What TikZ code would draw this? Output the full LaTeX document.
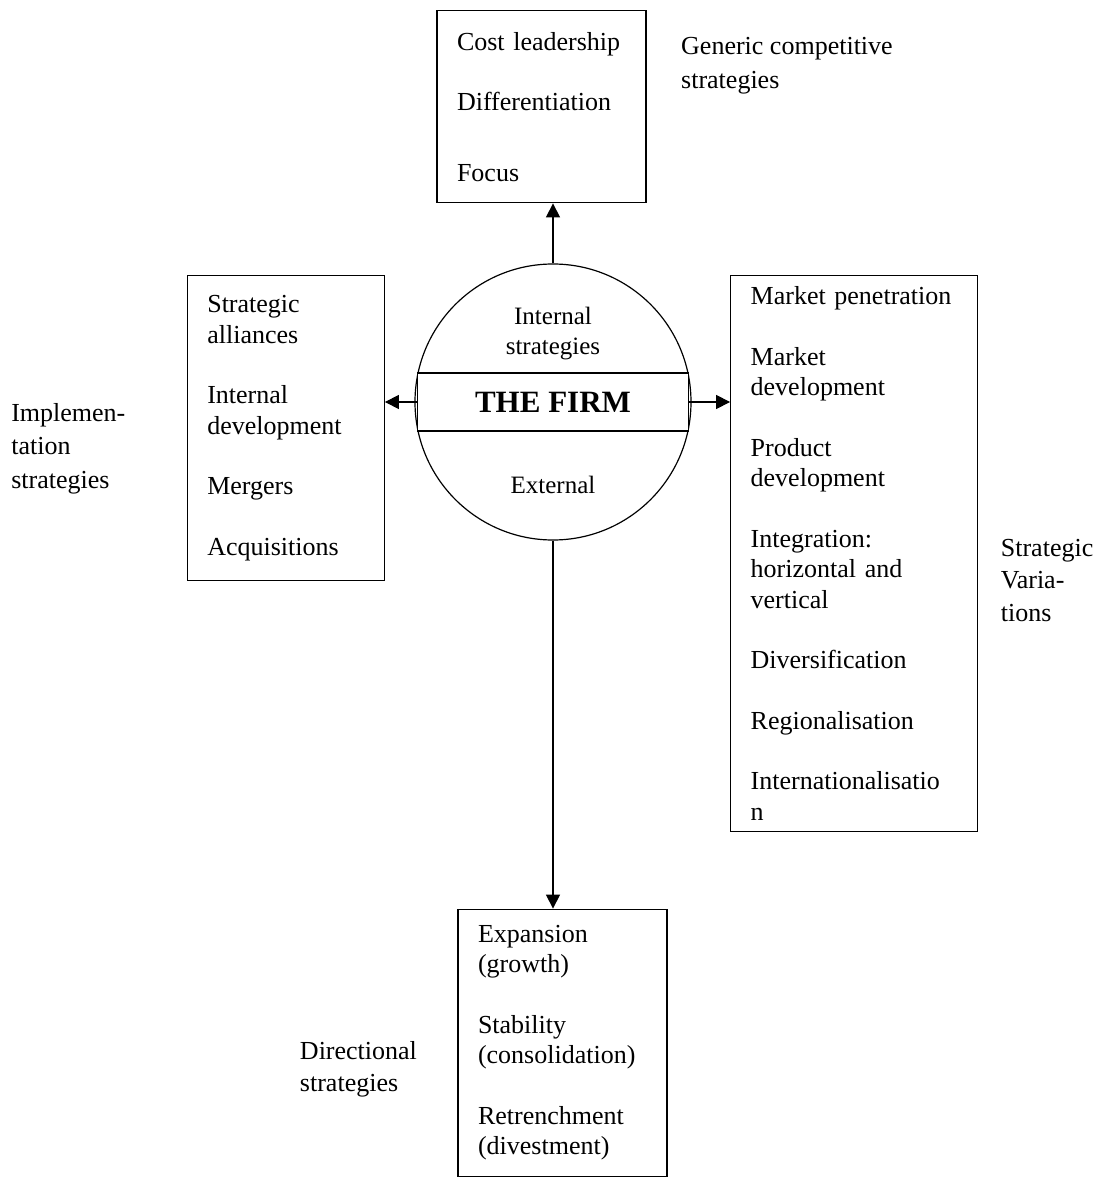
\documentclass[tikz,border=0pt]{standalone}
\usepackage{fontspec}
\setmainfont{Liberation Serif}
\usetikzlibrary{positioning,arrows.meta}

\begin{document}
\begin{tikzpicture}[font=\fontsize{13}{15.25}\selectfont,>={Triangle[length=7pt,width=7pt]},
      line width=0.6pt,
      box/.style={draw,align=left,inner xsep=10pt,inner ysep=0pt},
      lab/.style={align=left,inner sep=0pt}]
    \useasboundingbox (-276.5pt,-387.5pt) rectangle (278.5pt,201pt);
    \node[draw,circle,minimum size=138pt,inner sep=0pt] (firm) at (0,0) {};
    \node[draw,fill=white,minimum width=135.5pt,minimum height=29pt,inner sep=0pt,
      font=\fontsize{15.5}{18}\selectfont\bfseries] (core) at (firm) {THE FIRM};
    \node[lab,align=center,font=\fontsize{12.5}{15}\selectfont,above=6pt of core] (intl) {Internal\\strategies};
    \node[lab,font=\fontsize{12.5}{15}\selectfont,below=22pt of core] (extl) {External};

    \node[box,text width=84.5pt,minimum height=96pt,above=30pt of firm,xshift=-5.75pt] (gen)
      {Cost leadership\\[15pt]Differentiation\\[20pt]Focus};
    \node[box,text width=78.5pt,minimum height=152.5pt,anchor=north east] (impl)
      at ([shift={(-16pt,63.5pt)}]core.west)
      {Strategic\\alliances\\[15pt]Internal\\development\\[15pt]Mergers\\[15pt]Acquisitions};
    \node[box,text width=103.5pt,minimum height=278pt,anchor=north west] (var)
      at ([shift={(20.5pt,63.5pt)}]core.east)
      {Market penetration\\[15pt]Market\\development\\[15pt]Product\\development\\[15pt]%
       Integration:\\horizontal and\\vertical\\[15pt]Diversification\\[15pt]%
       Regionalisation\\[15pt]Internationalisatio\\n};
    \node[box,text width=84.5pt,minimum height=133.5pt,below=184pt of firm,xshift=4.75pt] (dir)
      {Expansion\\(growth)\\[15pt]Stability\\(consolidation)\\[15pt]Retrenchment\\(divestment)};

    \node[lab,anchor=north west,font=\fontsize{13}{17}\selectfont] (genlab)
      at ([shift={(17pt,-13pt)}]gen.north east) {Generic competitive\\strategies};
    \node[lab,anchor=north west,font=\fontsize{13}{16.75}\selectfont] (impllab)
      at ([shift={(-88pt,12.75pt)}]impl.west) {Implemen-\\tation\\strategies};
    \node[lab,anchor=north west,font=\fontsize{13}{16.25}\selectfont] (varlab)
      at ([shift={(11pt,7.5pt)}]var.east) {Strategic\\Varia-\\tions};
    \node[lab,anchor=north west,font=\fontsize{13}{16}\selectfont] (dirlab)
      at ([shift={(-79pt,0.75pt)}]dir.west) {Directional\\strategies};

    \draw[->] (firm.north) -- (firm.north |- gen.south);
    \draw[->] (core.west) -- (core.west -| impl.east);
    \draw[->] (core.east) -- (core.east -| var.west);
    \draw[->] (firm.south) -- (firm.south |- dir.north);
  \end{tikzpicture}
\end{document}
